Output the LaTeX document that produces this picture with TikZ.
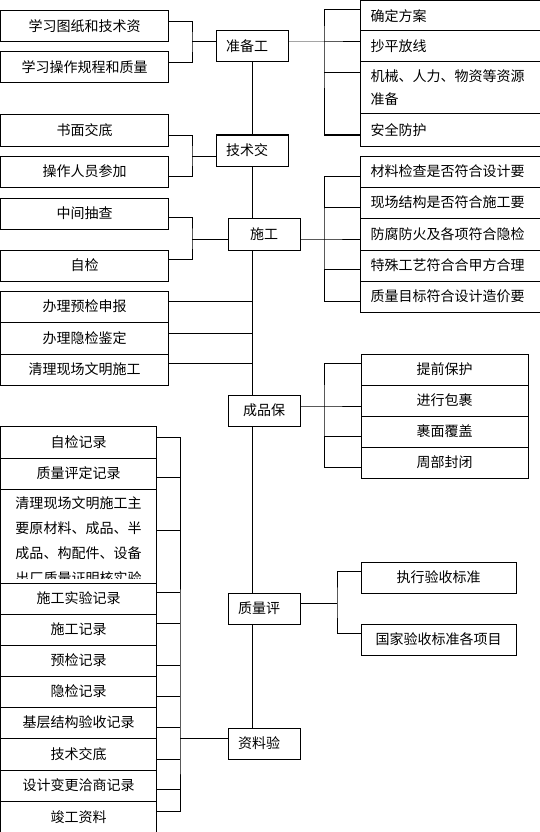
\documentclass[tikz,border=0pt]{standalone}
\usepackage{fontspec}
\newfontfamily\cjk{Noto Sans CJK SC}

\tikzset{
  box/.style={draw, line width=1pt, anchor=north west, outer sep=0pt, inner ysep=0pt,
    minimum height=31pt, font=\cjk\fontsize{14pt}{23pt}\selectfont},
  lbox/.style={box, minimum width=168pt, inner xsep=0pt, align=center},
  mbox/.style={box, text width=52pt, inner xsep=10pt, align=left},
  mcbox/.style={box, minimum width=72pt, inner xsep=0pt, align=center},
  rbox/.style={box, text width=180pt, inner xsep=10pt, align=left},
  cbox/.style={box, minimum width=167pt, inner xsep=0pt, align=center},
  link/.style={line width=1pt},
}

\begin{document}
\begin{tikzpicture}[x=1pt, y=-1pt]
  \clip (0,0) rectangle (540,832);

  % left column, upper part
  \node[lbox, minimum height=31.5pt] (xx1) at (0.5,10.5) {学习图纸和技术资};
  \node[lbox] (xx2) at (0.5,52) {学习操作规程和质量};
  \node[lbox, minimum height=31.5pt] (sm) at (0.5,114.5) {书面交底};
  \node[lbox] (cz) at (0.5,156) {操作人员参加};
  \node[lbox] (zj) at (0.5,198) {中间抽查};
  \node[lbox] (zijian) at (0.5,250) {自检};
  \node[lbox] (yj) at (0.5,291) {办理预检申报};
  \node[lbox, minimum height=32pt] (hj) at (0.5,322) {办理隐检鉴定};
  \node[lbox] (ql) at (0.5,354) {清理现场文明施工};

  % main steps
  \node[mbox] (zbg) at (216,31) {准备工};
  \node[mbox] (jsj) at (216,135) {技术交};
  \node[mcbox, minimum height=32pt] (sg) at (228,218) {施工};
  \node[mcbox] (cpb) at (228,395) {成品保};
  \node[mbox] (zlp) at (228,593) {质量评};
  \node[mbox] (zly) at (228,728) {资料验};

  % right column
  \node[rbox, minimum height=30.5pt] (qd) at (360.5,0.5) {确定方案};
  \node[rbox] (cp) at (360.5,31) {抄平放线};
  \node[rbox, minimum height=52pt] (jx) at (360.5,62) {机械、人力、物资等资源\\准备};
  \node[rbox, minimum height=32pt] (aq) at (360.5,114) {安全防护};
  \node[rbox] (cl) at (360.5,156) {材料检查是否符合设计要};
  \node[rbox] (xc) at (360.5,187) {现场结构是否符合施工要};
  \node[rbox, minimum height=32pt] (ff) at (360.5,218) {防腐防火及各项符合隐检};
  \node[rbox] (ts) at (360.5,250) {特殊工艺符合合甲方合理};
  \node[rbox] (zm) at (360.5,281) {质量目标符合设计造价要};

  \node[cbox] (tq) at (361,354) {提前保护};
  \node[cbox] (jx2) at (361,385) {进行包裹};
  \node[cbox] (gm) at (361,416) {裹面覆盖};
  \node[cbox] (zb) at (361,447) {周部封闭};

  \node[cbox, minimum width=155pt] (zx) at (361,562) {执行验收标准};
  \node[cbox, minimum width=155pt] (gj) at (361,624) {国家验收标准各项目};

  % left column, records
  \node[lbox, minimum width=156pt, minimum height=32pt] (zjjl) at (0.5,426) {自检记录};
  \node[lbox, minimum width=156pt] (zlpd) at (0.5,458) {质量评定记录};
  \node[lbox, minimum width=156pt, minimum height=94pt] (qlxc) at (0.5,489) {};
  \begin{scope}
    \clip (qlxc.north west) rectangle ([yshift=5]qlxc.south east);
    \node[anchor=north, inner sep=0pt, align=center,
      font=\cjk\fontsize{14pt}{25pt}\selectfont] (qlxcText) at ([yshift=-7]qlxc.north)
      {清理现场文明施工主\\要原材料、成品、半\\成品、构配件、设备\\出厂质量证明核实验};
  \end{scope}
  \node[lbox, minimum width=156pt] (sgsy) at (0.5,583) {施工实验记录};
  \node[lbox, minimum width=156pt] (sgjl) at (0.5,614) {施工记录};
  \node[lbox, minimum width=156pt] (yjjl) at (0.5,645) {预检记录};
  \node[lbox, minimum width=156pt] (hjjl) at (0.5,676) {隐检记录};
  \node[lbox, minimum width=156pt] (jc) at (0.5,707) {基层结构验收记录};
  \node[lbox, minimum width=156pt, minimum height=32pt] (jsjd) at (0.5,738) {技术交底};
  \node[lbox, minimum width=156pt] (sjbg) at (0.5,770) {设计变更洽商记录};
  \node[lbox, minimum width=156pt, minimum height=32pt] (jg) at (0.5,801) {竣工资料};

  % junctions
  \coordinate (ka) at (192,42);
  \coordinate (kb) at (192,156);
  \coordinate (kc) at (192,239);
  \coordinate (kr1) at (324,42);
  \coordinate (kr2) at (324,239);
  \coordinate (kr3) at (324,406);
  \coordinate (kr4) at (337,603);
  \coordinate (kl) at (180,738);

  % trunk
  \draw[link] (zbg.south) -- (jsj.north);
  \draw[link] (jsj.south) -- (jsj.south |- sg.north);
  \draw[link] (jsj.south |- sg.south) -- (jsj.south |- cpb.north);
  \draw[link] (jsj.south |- cpb.south) -- (jsj.south |- zlp.north);
  \draw[link] (jsj.south |- zlp.south) -- (jsj.south |- zly.north);

  % left brackets
  \draw[link] ([yshift=5]xx1.east) -| (ka) |- ([yshift=5]xx2.east);
  \draw[link] (ka) -- (ka -| zbg.west);
  \draw[link] ([yshift=-5]sm.east) -| (kb) |- ([yshift=-5]cz.east);
  \draw[link] (kb) -- (kb -| jsj.west);
  \draw[link] ([yshift=-4]zj.east) -| (kc) |- ([yshift=6]zijian.east);
  \draw[link] (kc) -- (kc -| sg.west);
  \draw[link] ([yshift=5]yj.east) -- ([yshift=5]yj.east -| zbg.south);
  \draw[link] ([yshift=5]hj.east) -- ([yshift=5]hj.east -| zbg.south);
  \draw[link] ([yshift=6]ql.east) -- ([yshift=6]ql.east -| zbg.south);

  % right brackets
  \draw[link] (kr1 -| zbg.east) -- (kr1) -- (kr1 -| cp.west);
  \draw[link] ([yshift=6]qd.west) -| (kr1) |- ([yshift=-5]aq.west);
  \draw[link] ([yshift=15]jx.west) -- ([yshift=15]jx.west -| kr1);

  \draw[link] (kr2 -| sg.east) -- (kr2) -- (kr2 -| ff.west);
  \draw[link] ([yshift=-5]cl.west) -| (kr2) |- ([yshift=-5]zm.west);
  \draw[link] ([yshift=-5]xc.west) -- ([yshift=-5]xc.west -| kr2);
  \draw[link] ([yshift=-4]ts.west) -- ([yshift=-4]ts.west -| kr2);

  \draw[link] (kr3 -| cpb.east) -- (kr3) -- (kr3 -| jx2.west);
  \draw[link] ([yshift=6]tq.west) -| (kr3) |- ([yshift=-5]zb.west);
  \draw[link] ([yshift=-5]gm.west) -- ([yshift=-5]gm.west -| kr3);

  \draw[link] (kr4 -| zlp.east) -- (kr4);
  \draw[link] ([yshift=6]zx.west) -| (kr4) |- ([yshift=6]gj.west);

  % records bracket
  \draw[link] ([yshift=5]zjjl.east) -| (kl) |- ([yshift=6]jg.east);
  \draw[link] (kl) -- (kl -| zly.west);
  \draw[link] ([yshift=-4]zlpd.east) -- ([yshift=-4]zlpd.east -| kl);
  \draw[link] ([yshift=6]qlxc.east) -- ([yshift=6]qlxc.east -| kl);
  \draw[link] ([yshift=6]sgsy.east) -- ([yshift=6]sgsy.east -| kl);
  \draw[link] ([yshift=6]sgjl.east) -- ([yshift=6]sgjl.east -| kl);
  \draw[link] ([yshift=-5]yjjl.east) -- ([yshift=-5]yjjl.east -| kl);
  \draw[link] ([yshift=-5]hjjl.east) -- ([yshift=-5]hjjl.east -| kl);
  \draw[link] ([yshift=-5]jc.east) -- ([yshift=-5]jc.east -| kl);
  \draw[link] ([yshift=-5]jsjd.east) -- ([yshift=-5]jsjd.east -| kl);
  \draw[link] ([yshift=-4]sjbg.east) -- ([yshift=-4]sjbg.east -| kl);
\end{tikzpicture}
\end{document}
